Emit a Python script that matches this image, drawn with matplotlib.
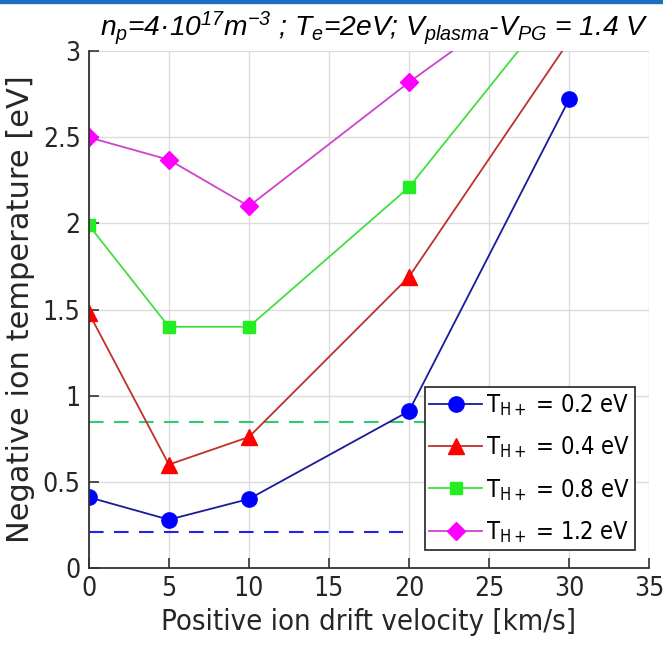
import matplotlib
matplotlib.use("Agg")
import matplotlib.pyplot as plt
from matplotlib.patches import Rectangle

# drift velocity [km/s]
velocity = [0, 5, 10, 20, 30]

# negative ion temperature [eV] for each positive ion temperature
t_02 = [0.41, 0.28, 0.40, 0.91, 2.72]
t_04 = [1.48, 0.60, 0.76, 1.69, 3.06]
t_08 = [1.99, 1.40, 1.40, 2.21, 3.37]
t_12 = [2.50, 2.37, 2.10, 2.82, 3.49]

labels = ["0.2", "0.4", "0.8", "1.2"]

# horizontal dashed reference levels
ref_green_y = 0.85
ref_green_x = [0, 21.4]
ref_blue_y = 0.21
ref_blue_x = [0, 19.6]

xticks = [0, 5, 10, 15, 20, 25, 30, 35]
yticks = [0, 0.5, 1, 1.5, 2, 2.5, 3]

plt.rcParams['font.family'] = ['DejaVu Sans']
plt.rcParams['mathtext.fontset'] = 'custom'
plt.rcParams['mathtext.rm'] = 'Liberation Sans:italic'
plt.rcParams['mathtext.it'] = 'Liberation Sans:italic'
plt.rcParams['mathtext.sf'] = 'DejaVu Sans:stretch=condensed'

fig = plt.figure(figsize=(6.63, 6.49), dpi=100)
ax = fig.add_axes([0.134, 0.125, 0.845, 0.796])

cond = dict(fontstretch='condensed')

ax.plot(ref_green_x, [ref_green_y] * 2, '--', color='#2ecc71', lw=1.5, dashes=(7, 5))
ax.plot(ref_blue_x, [ref_blue_y] * 2, '--', color='#2222ee', lw=1.5, dashes=(7, 5))

series = [
    (t_02, '#1a1a9a', 'blue', 'o', 11),
    (t_04, '#c0302a', 'red', '^', 11),
    (t_08, '#44dd44', '#22ee22', 's', 9),
    (t_12, '#cc44cc', 'magenta', 'D', 9),
]
for (vals, lc, mc, mk, ms), lab in zip(series, labels):
    ax.plot(velocity, vals, color=lc, lw=1.3, marker=mk, ms=ms,
            markerfacecolor=mc, markeredgecolor=mc,
            label=r"T$_{\mathsf{H+}}$ = " + lab + " eV")

ax.set_xlim(0, 35)
ax.set_ylim(0, 3)
ax.set_xticks(xticks)
ax.set_yticks(yticks)
ax.set_xticklabels([str(t) for t in xticks], fontsize=19, color='#262626', **cond)
ax.set_yticklabels(["0", "0.5", "1", "1.5", "2", "2.5", "3"], fontsize=19, color='#262626', **cond)
ax.grid(True, color='#dddddd', lw=1)
ax.set_axisbelow(True)
for s in ['top', 'right']:
    ax.spines[s].set_visible(False)
for s in ['left', 'bottom']:
    ax.spines[s].set_color('#333333')
    ax.spines[s].set_linewidth(1.3)
ax.tick_params(direction='in', length=7, width=1.2, color='#333333', pad=6)

ax.set_xlabel("Positive ion drift velocity [km/s]", fontsize=21, color='#262626', labelpad=4, **cond)
ax.set_ylabel("Negative ion temperature [eV]", fontsize=22, color='#262626')
ax.yaxis.set_label_coords(-0.096, 0.5)

leg = ax.legend(loc='lower right', bbox_to_anchor=(0.975, 0.035),
                prop=dict(size=17, stretch='condensed'),
                frameon=True, fancybox=False, edgecolor='#222222', framealpha=1,
                handlelength=2.25, handletextpad=0.15, borderpad=0.2, labelspacing=0.7,
                borderaxespad=0)
leg.get_frame().set_linewidth(1.2)

fig.text(0.978, 0.945,
         r"$n_p$=4·10$^{17}$m$^{-3}$ ; $T_e$=2eV; $V_{plasma}$-$V_{PG}$ = 1.4 V",
         ha='right', va='baseline', fontsize=20.3, style='italic', family='Liberation Sans')

fig.patches.append(Rectangle((0, 0.995), 1, 0.005, transform=fig.transFigure,
                             color='#1f6fc0', zorder=10))

fig.savefig("out.png", dpi=100)
